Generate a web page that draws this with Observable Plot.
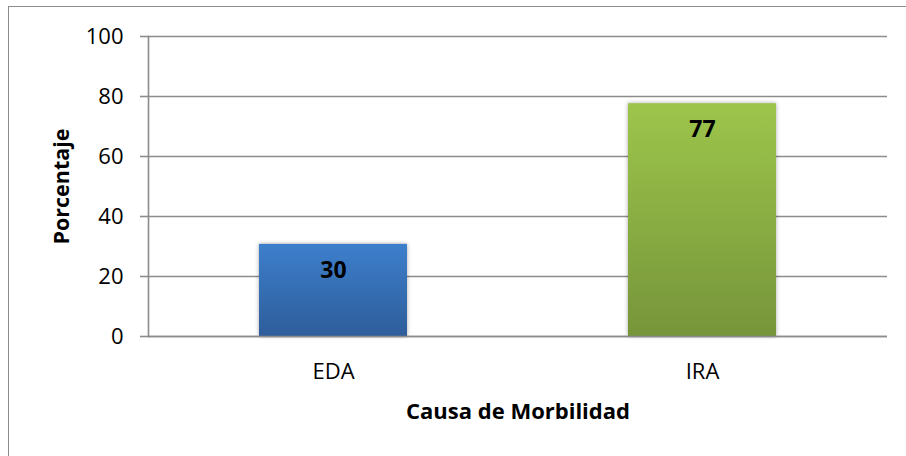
<!DOCTYPE html>
<html>
<head>
<meta charset="utf-8">
<script src="https://cdn.jsdelivr.net/npm/d3@7"></script>
<script src="https://cdn.jsdelivr.net/npm/@observablehq/plot@0.6"></script>
<style>
  html, body { margin: 0; padding: 0; background: #fff; }
  #wrap { position: relative; width: 906px; height: 456px; overflow: hidden; }
  #border { position: absolute; left: 8px; top: 6px; width: 920px; height: 470px;
            border-left: 1.5px solid #8c8c8c; border-top: 1.5px solid #8c8c8c; box-sizing: border-box; }
  #chart { position: absolute; left: 0; top: 0; }
</style>
</head>
<body>
<div id="wrap"><div id="border"></div><div id="chart"></div></div>
<script>
const categories = ["EDA", "IRA"];
const values = [30.7, 77.6];
const valueLabels = ["30", "77"];
const yTicks = [0, 20, 40, 60, 80, 100];

const data = categories.map((c, i) => ({cause: c, value: values[i], label: valueLabels[i]}));
const gradIds = {EDA: "gradEDA", IRA: "gradIRA"};
const font = "'Open Sans', 'DejaVu Sans', sans-serif";

const chart = Plot.plot({
  width: 906,
  height: 456,
  marginLeft: 148,
  marginRight: 19,
  marginTop: 36,
  marginBottom: 120,
  style: {fontFamily: font, fontSize: "22px", color: "#000", background: "transparent"},
  x: {domain: categories, paddingInner: 0.6, paddingOuter: 0.3, label: null},
  y: {domain: [0, 100], label: null},
  color: {type: "identity"},
  marks: [
    Plot.gridY(yTicks, {stroke: "#8c8c8c", strokeOpacity: 1, strokeWidth: 1.6}),
    Plot.axisY(yTicks, {tickSize: 8, tickPadding: 17, stroke: "#8c8c8c", strokeWidth: 1.6, fontSize: 22, label: null}),
    Plot.frame({anchor: "left", stroke: "#8c8c8c", strokeWidth: 1.6}),
    Plot.barY(data, {x: "cause", y: "value", fill: d => `url(#${gradIds[d.cause]})`}),
    Plot.ruleY([0], {stroke: "#8c8c8c", strokeWidth: 1.6}),
    Plot.axisX({tickSize: 0, tickPadding: 27, fontSize: 22, label: null}),
    Plot.text(data, {x: "cause", y: "value", text: "label", dy: 26, fontSize: 23, fontWeight: "bold", fill: "#000"}),
    Plot.text(["Porcentaje"], {frameAnchor: "left", dx: -86, rotate: -90, textAnchor: "middle", lineAnchor: "middle", fontSize: 21.5, fontWeight: "bold", fill: "#000"}),
    Plot.text(["Causa de Morbilidad"], {frameAnchor: "bottom", dy: 75, textAnchor: "middle", lineAnchor: "middle", fontSize: 22, fontWeight: "bold", fill: "#000"})
  ]
});

// gradient definitions for the bars
const svg = d3.select(chart);
const defs = svg.insert("defs", ":first-child");
const grads = [
  {id: "gradEDA", top: "#3d7fcc", bottom: "#2e5d9a"},
  {id: "gradIRA", top: "#9dc54b", bottom: "#76953a"}
];
for (const g of grads) {
  const lg = defs.append("linearGradient").attr("id", g.id).attr("x1", 0).attr("y1", 0).attr("x2", 0).attr("y2", 1);
  lg.append("stop").attr("offset", "0%").attr("stop-color", g.top);
  lg.append("stop").attr("offset", "100%").attr("stop-color", g.bottom);
}
svg.selectAll("g[aria-label=bar] rect").style("filter", "drop-shadow(0px 0px 2px rgba(0,0,0,0.35))");

document.getElementById("chart").appendChild(chart);
</script>
</body>
</html>
